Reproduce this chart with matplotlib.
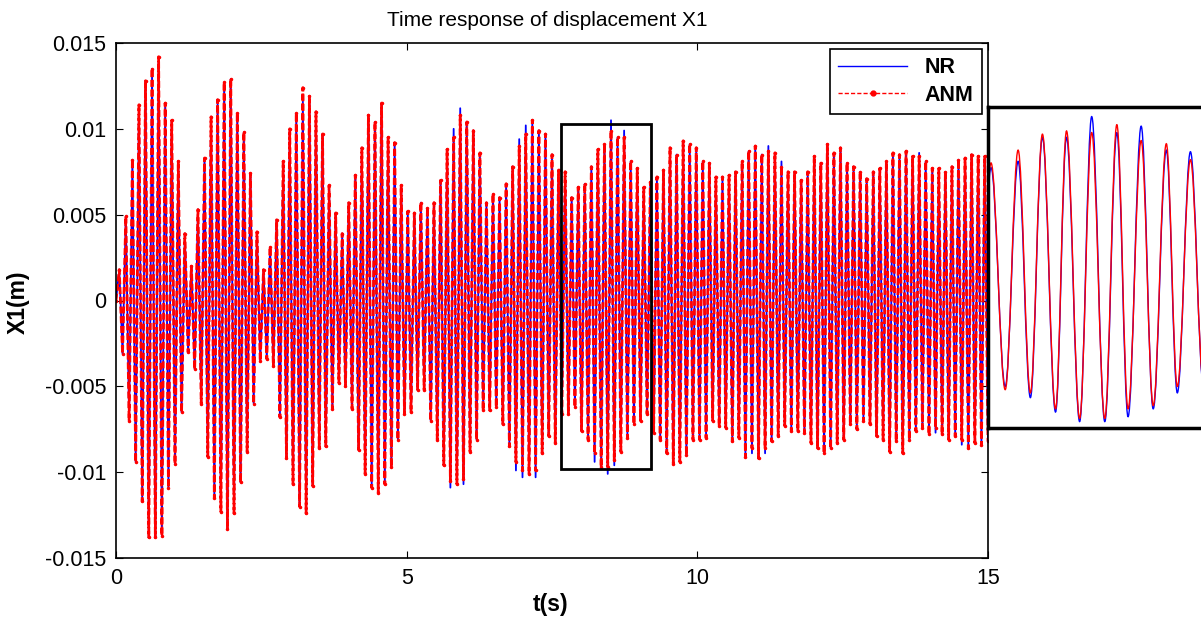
import numpy as np
import matplotlib.pyplot as plt
from matplotlib.patches import Rectangle, PathPatch
from matplotlib.path import Path

plt.rcParams['font.family'] = ['Liberation Sans', 'DejaVu Sans']

# per-cycle peaks of ANM response, in mm (0..15 s)
anm_upper_mm = [
    1.8, 4.9, 8.2, 11.4, 12.8, 13.5, 14.2, 11.5, 10.5, 8.1, 3.9, 2.0, 5.3, 8.3, 10.7, 11.7,
    12.7, 12.9, 10.9, 9.8, 7.4, 4.0,
    1.8, 3.1, 4.7, 8.1, 10.0, 10.9, 12.4, 11.9, 11.0, 9.7, 6.7, 5.1, 3.9, 5.7, 7.3, 8.9,
    10.8, 10.4, 11.5, 9.5, 9.2, 6.7, 5.2,
    5.1, 5.7, 5.4, 5.7, 7.0, 8.8, 9.5, 10.8, 10.4, 9.9, 8.6, 5.7, 6.2, 6.0, 6.8, 7.8,
    9.0, 9.7, 10.5, 9.9, 9.7, 8.5, 7.6,
    7.5, 6.0, 6.6, 6.8, 7.8, 8.8, 9.1, 9.9, 9.5, 9.5, 8.1, 7.7, 6.6, 6.9, 7.2, 7.6,
    8.9, 8.5, 9.3, 9.1, 8.9, 8.1,
    8.0, 7.2, 7.2, 7.3, 7.5, 8.1, 8.7, 9.0, 8.5, 8.7, 8.6, 7.8, 7.5, 7.5, 7.0, 7.5,
    8.4, 8.0, 9.1, 8.6, 8.9, 8.0,
    7.8, 7.5, 7.1, 7.5, 7.7, 8.1, 8.6, 8.5, 8.7, 8.4, 8.4, 8.1, 7.7, 7.7, 7.5, 7.8,
    8.2, 8.3, 8.5, 8.4, 8.4,
]
anm_lower_mm = [
    -3.1, -7.0, -9.4, -11.7, -13.8, -13.8, -13.7, -10.9, -9.5, -6.5, -3.0, -4.0, -6.0, -9.1,
    -11.5, -12.3, -13.3, -12.4, -10.6, -8.8, -6.0, -3.5,
    -3.4, -3.8, -6.8, -9.2, -10.7, -12.0, -12.4, -10.8, -8.6, -8.5, -6.3, -4.8, -5.0, -6.3,
    -8.7, -10.1, -10.9, -11.2, -10.7, -9.7, -8.1, -6.6,
    -6.5, -5.2, -5.2, -7.0, -8.1, -9.6, -10.5, -10.7, -10.4, -8.8, -8.1, -6.4, -6.4, -6.2,
    -7.2, -8.5, -9.4, -9.9, -10.1, -9.9, -8.9, -7.9, -8.3,
    -6.6, -6.6, -6.2, -7.6, -8.1, -8.9, -9.7, -9.7, -9.3, -8.8, -8.0, -7.2, -7.0, -6.6,
    -7.7, -8.1, -8.9, -9.5, -9.4, -9.0, -8.1, -8.1,
    -8.0, -7.0, -7.3, -7.4, -8.2, -8.0, -9.1, -8.6, -9.2, -8.6, -8.2, -7.9, -7.3, -7.6,
    -7.6, -7.7, -8.3, -8.6, -8.9, -8.6, -8.3, -8.1,
    -7.2, -7.5, -7.0, -7.2, -7.9, -8.1, -8.8, -8.2, -8.9, -8.1, -7.6, -7.4, -7.8, -7.4,
    -7.8, -8.1, -7.9, -8.1, -8.6, -8.3, -8.4, -8.2,
]
# cycles where NR peak differs visibly from ANM (index, shift in mm)
nr_upper_idx = [6, 28, 51, 52, 61, 62, 75, 77, 99, 101, 122]
nr_upper_dmm = [-0.3, -0.8, 0.5, 0.4, 0.4, 0.5, 0.6, 0.4, 0.3, 0.3, 0.2]
nr_lower_idx = [50, 52, 60, 61, 63, 72, 74, 75, 96, 98, 124, 128]
nr_lower_dmm = [-0.4, -0.3, -0.5, -0.4, -0.4, -0.5, -0.4, -0.3, -0.3, -0.3, -0.3, -0.3]

# zoomed window and its close-up (extrema of the inset curves)
zoom_t = (7.655, 9.203)
zoom_v = (-0.0098, 0.0103)
inset_t = [7.610, 7.669, 7.735, 7.795, 7.852, 7.908, 7.969, 8.020, 8.081, 8.137,
           8.198, 8.254, 8.306, 8.367, 8.423, 8.484, 8.535, 8.596, 8.657]
inset_anm_mm = [-7.0, 6.8, -7.4, 7.6, -7.6, 8.6, -8.6, 8.8, -9.2, 8.7,
                -9.2, 9.2, -8.6, 8.2, -8.4, 8.0, -7.2, 7.0, -7.0]
inset_nr_mm = [-7.0, 6.5, -7.2, 6.9, -7.9, 8.4, -8.8, 8.4, -9.4, 9.7,
               -9.4, 8.7, -9.1, 9.1, -8.6, 7.6, -7.6, 7.5, -7.2]


def zigzag(up, lo):
    vals = [0.0]
    for u, l in zip(up, lo):
        vals += [u, l]
    return np.array(vals) * 1e-3


nr_upper = list(anm_upper_mm)
nr_lower = list(anm_lower_mm)
for i, d in zip(nr_upper_idx, nr_upper_dmm):
    nr_upper[i] += d
for i, d in zip(nr_lower_idx, nr_lower_dmm):
    nr_lower[i] += d

anm = zigzag(anm_upper_mm, anm_lower_mm)
nr = zigzag(nr_upper, nr_lower)
t = np.linspace(0, 15, len(anm))


def smooth_path(tt, vv, k=0.3634):
    verts = [(tt[0], vv[0])]
    codes = [Path.MOVETO]
    for i in range(len(tt) - 1):
        dt = tt[i + 1] - tt[i]
        verts += [(tt[i] + k * dt, vv[i]), (tt[i + 1] - k * dt, vv[i + 1]), (tt[i + 1], vv[i + 1])]
        codes += [Path.CURVE4] * 3
    return Path(verts, codes)


W, H = 1201, 617
fig = plt.figure(figsize=(W / 100, H / 100), dpi=100)
ax = fig.add_axes([116 / W, 1 - 558 / H, 872 / W, 515 / H])

ax.plot(t, nr, color='blue', lw=1.3, label='NR')
ax.plot(t, anm, color='red', lw=2.0, ls=(0, (2.5, 1)), marker='.', ms=3, label='ANM')

ax.set_xlim(0, 15)
ax.set_ylim(-0.015, 0.015)
ax.set_xticks([0, 5, 10, 15])
ax.set_xticklabels(['0', '5', '10', '15'])
ax.set_yticks([-0.015, -0.01, -0.005, 0, 0.005, 0.01, 0.015])
ax.set_yticklabels(['-0.015', '-0.01', '-0.005', '0', '0.005', '0.01', '0.015'])
ax.tick_params(direction='in', top=True, right=True, length=5, labelsize=15.5, pad=7)
for s in ax.spines.values():
    s.set_linewidth(1.2)

ax.add_patch(Rectangle((zoom_t[0], zoom_v[0]), zoom_t[1] - zoom_t[0], zoom_v[1] - zoom_v[0],
                       fill=False, ec='black', lw=2, zorder=5))

leg = ax.legend(loc='upper right', bbox_to_anchor=(0.993, 0.989), borderaxespad=0,
                fancybox=False, edgecolor='black', handlelength=3.2, framealpha=1,
                labelspacing=0.3, numpoints=1, prop={'weight': 'bold', 'size': 15.5})
leg.get_frame().set_linewidth(1.2)
leg.legend_handles[0].set_linewidth(1.0)
leg.legend_handles[1].set_linewidth(1.0)
leg.legend_handles[1].set_linestyle((0, (3, 1.5)))
leg.legend_handles[1].set_markersize(7)

fig.text(547 / W, 1 - 20 / H, 'Time response of displacement X1', ha='center', va='center', fontsize=15)
fig.text(551 / W, 1 - 605 / H, 't(s)', ha='center', va='center', fontsize=16.5, fontweight='bold')
fig.text(18 / W, 1 - 302 / H, 'X1(m)', ha='center', va='center', rotation=90, fontsize=16.5,
         fontweight='bold')

# close-up of the boxed window, running off the right edge of the figure
axi = fig.add_axes([988 / W, 1 - 428 / H, 333 / W, 321 / H])
axi.add_patch(PathPatch(smooth_path(inset_t, np.array(inset_nr_mm) * 1e-3), fill=False,
                        ec='blue', lw=1.0))
axi.add_patch(PathPatch(smooth_path(inset_t, np.array(inset_anm_mm) * 1e-3), fill=False,
                        ec='red', lw=1.0))
axi.set_xlim(*zoom_t)
axi.set_ylim(*zoom_v)
axi.set_xticks([])
axi.set_yticks([])
for s in axi.spines.values():
    s.set_linewidth(2.5)

fig.savefig('out.png', dpi=100)
